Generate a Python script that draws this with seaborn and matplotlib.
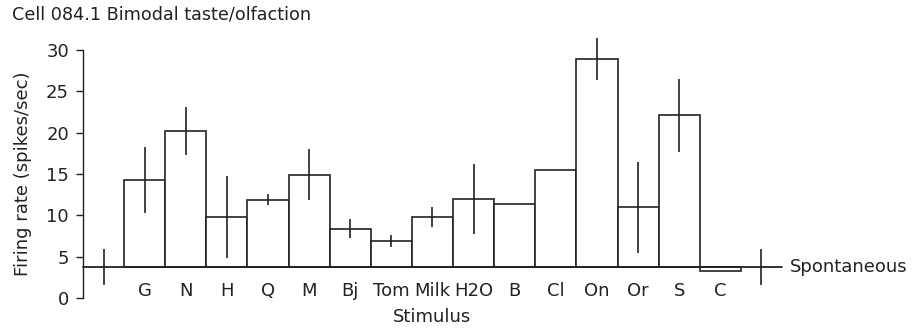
import numpy as np
import pandas as pd
import seaborn as sns
import matplotlib
matplotlib.use("Agg")
import matplotlib.pyplot as plt

# Firing rate per stimulus (spikes/sec)
stimuli = ['G', 'N', 'H', 'Q', 'M', 'Bj', 'Tom', 'Milk', 'H2O', 'B', 'Cl', 'On', 'Or', 'S', 'C']
rates = [14.3, 20.2, 9.8, 11.9, 14.9, 8.4, 6.9, 9.8, 12.0, 11.4, 15.5, 28.9, 11.0, 22.1, 3.3]
errors = [4.0, 2.9, 5.0, 0.7, 3.1, 1.15, 0.7, 1.25, 4.2, np.nan, np.nan, 2.5, 5.5, 4.45, np.nan]

# Spontaneous rate (baseline) and its error
spont = 3.75
spont_err = 2.2

sns.set_theme(style="ticks")
plt.rcParams['font.family'] = ['DejaVu Sans']

df = pd.DataFrame({'Stimulus': stimuli, 'Rate': rates, 'Err': errors})
df['Height'] = df['Rate'] - spont

fig = plt.figure(figsize=(9.13, 3.29), dpi=100)
ax = fig.add_axes([0.0909, 0.0942, 0.7656, 0.7538])

ink = '#222222'
fs = 13
sns.barplot(data=df, x='Stimulus', y='Height', bottom=spont, width=1.0,
            color='white', edgecolor=ink, linewidth=1.2, errorbar=None, ax=ax)

pos = np.arange(len(stimuli))
eb = ax.errorbar(pos, df['Rate'], yerr=df['Err'], fmt='none', ecolor=ink,
                 elinewidth=1.2, capsize=0)
for c in eb.lines[2]:
    c.set_clip_on(False)

# spontaneous markers on both ends
ax.errorbar([-1, len(stimuli)], [spont, spont], yerr=spont_err, fmt='none',
            ecolor=ink, elinewidth=1.2, capsize=0)
ax.axhline(spont, color=ink, lw=1.3, clip_on=False)
ax.text(len(stimuli) + 0.7, spont, 'Spontaneous', fontsize=fs, va='center',
        ha='left', color=ink)

ax.set_xlim(-1.5, len(stimuli) + 0.5)
ax.set_ylim(0, 30)
ax.set_yticks([0, 5, 10, 15, 20, 25, 30])
ax.tick_params(axis='y', labelsize=fs, length=5, width=1, pad=5,
               color=ink, labelcolor=ink)

# stimulus labels sit inside the plot, under the baseline
ax.set_xticks([])
for i, s in enumerate(stimuli):
    ax.text(i, 0.2, s, ha='center', va='baseline', fontsize=fs, color=ink)

ax.set_xlabel('Stimulus', fontsize=fs, color=ink, labelpad=7)
ax.set_ylabel('Firing rate (spikes/sec)', fontsize=fs, color=ink, labelpad=10)

sns.despine(ax=ax, bottom=True)
ax.spines['left'].set_color(ink)
ax.spines['left'].set_linewidth(1)

fig.text(0.013, 0.957, 'Cell 084.1 Bimodal taste/olfaction', fontsize=12.7,
         ha='left', va='center', color=ink)

fig.savefig('out.png', dpi=100)
